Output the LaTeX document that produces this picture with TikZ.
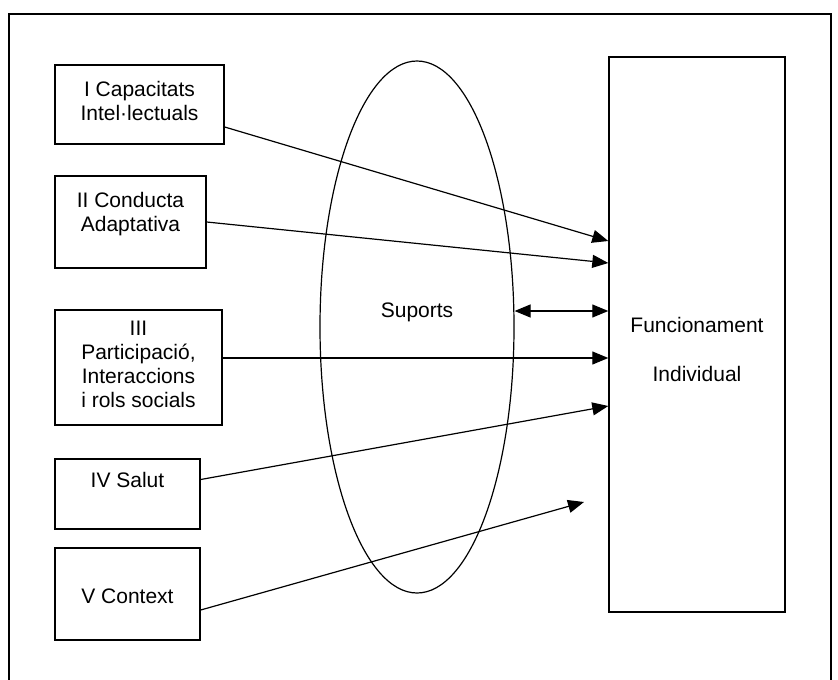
\documentclass[tikz,border=0pt]{standalone}
\usepackage{fontspec}
\setmainfont{Liberation Sans}
\usetikzlibrary{shapes.geometric,arrows.meta}

\begin{document}
\begin{tikzpicture}%
  [x=1pt,y=-1pt,font=\fontsize{21pt}{24pt}\selectfont]
  \tikzstyle{factor node}=[rectangle,draw,line width=1.4pt,inner sep=0pt]
  \tikzstyle{factor text}=[anchor=north,align=center,inner sep=0pt]
  \tikzstyle{link}=[line width=1.2pt,-{Triangle[length=16pt,width=13pt]}]
  \tikzstyle{two way}=[line width=1.2pt,{Triangle[length=16pt,width=13pt]}-{Triangle[length=16pt,width=13pt]}]
  \useasboundingbox (0,0) rectangle (838,680);
  \draw[line width=1.2pt] (9,14) rectangle (831,700);
  \node(capacitats)[factor node,minimum width=169pt,minimum height=79pt,
    label={[factor text,yshift=-17pt]north:{I Capacitats\\Intel·lectuals}}] at (139.5,104.5) {};
  \node(adaptativa)[factor node,minimum width=151pt,minimum height=92pt,
    label={[factor text,yshift=-17pt]north:{II Conducta\\Adaptativa}}] at (130.5,222) {};
  \node(participacio)[factor node,minimum width=167pt,minimum height=115pt,
    label={[factor text,yshift=-12pt]north:{III\\Participació,\\Interaccions\\i rols socials}}] at (138.5,367.5) {};
  \node(salut)[factor node,minimum width=145pt,minimum height=70pt,
    label={[factor text,yshift=-14pt]north:{IV Salut}}] at (127.5,494) {};
  \node(context)[factor node,minimum width=145pt,minimum height=92pt,
    label={[factor text,yshift=-41pt]north:{V Context}}] at (127.5,594) {};
  \node(suports)[ellipse,draw,line width=1.2pt,inner sep=0pt,
    minimum width=194pt,minimum height=532pt,
    label={[factor text,yshift=-242pt]north:{Suports}}] at (417,327) {};
  \node(funcionament)[factor node,minimum width=176pt,minimum height=555pt,
    label={[factor text,yshift=-261pt]north:{Funcionament\\[25pt]Individual}}] at (697,334.5) {};
  \coordinate(context end) at (584,502);
  \draw[link] ([yshift=-22.5pt]capacitats.east) -- ([yshift=93.5pt]funcionament.west);
  \draw[link] (adaptativa.east) -- ([yshift=71.5pt]funcionament.west);
  \draw[two way] ([yshift=16pt]suports.east) -- ([yshift=16pt]suports.east -| funcionament.west);
  \draw[link] ([yshift=-23.5pt]funcionament.west -| participacio.east) -- ([yshift=-23.5pt]funcionament.west);
  \draw[link] ([yshift=14.5pt]salut.east) -- ([yshift=-71.5pt]funcionament.west);
  \draw[link] ([yshift=-16pt]context.east) -- (context end);
\end{tikzpicture}
\end{document}
